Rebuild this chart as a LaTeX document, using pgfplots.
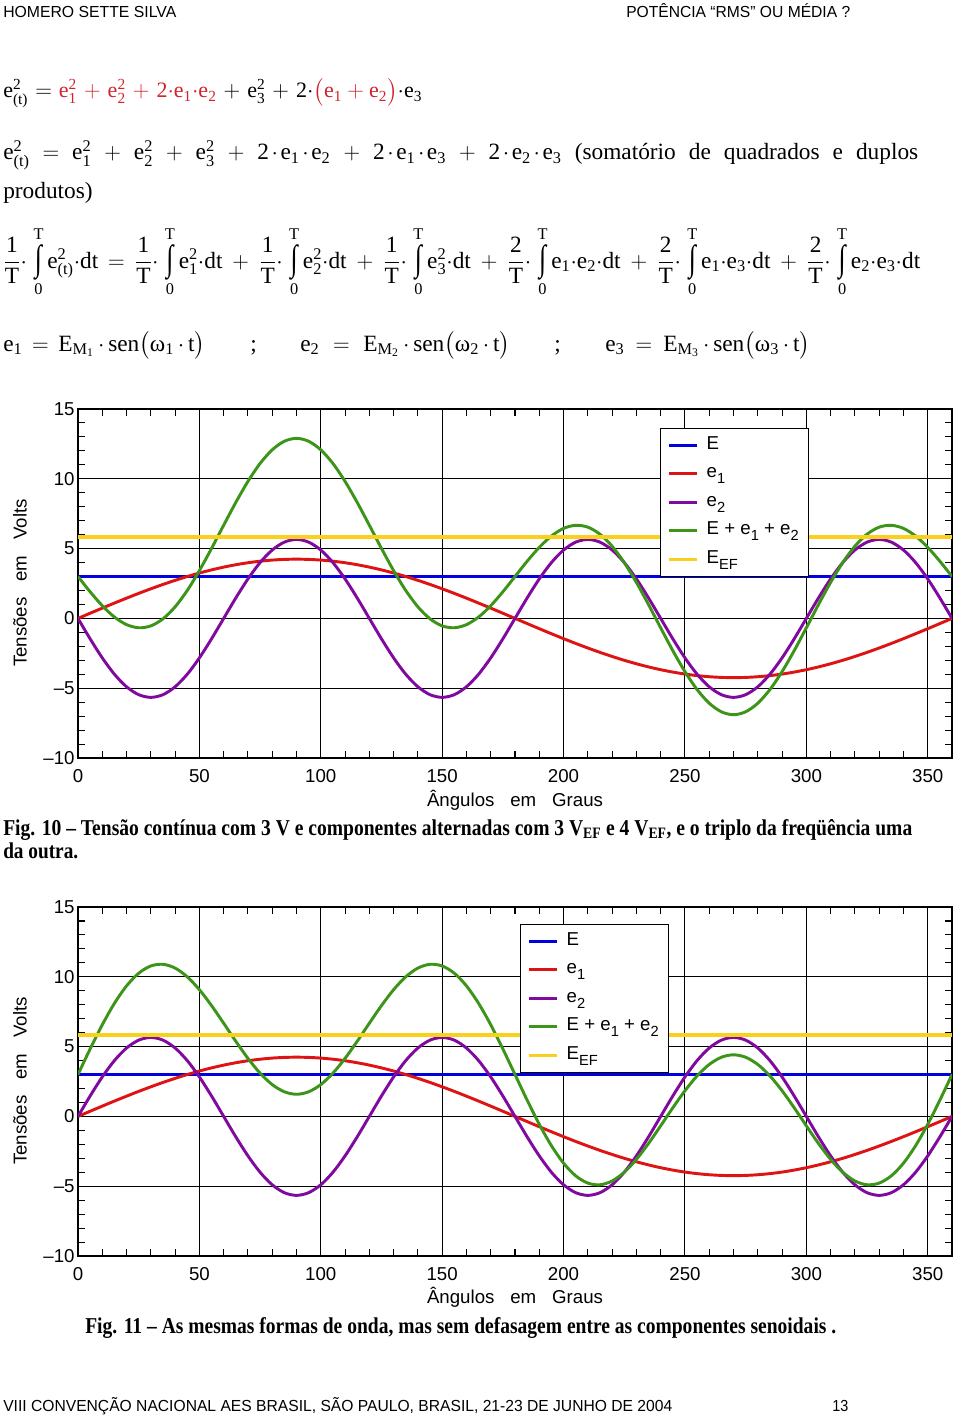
\documentclass[border=0pt]{standalone}
\usepackage{fontspec}
\setmainfont{Liberation Serif}
\setsansfont{Liberation Sans}
\usepackage{amsmath}
\usepackage{graphicx}
\usepackage{pgfplots}
\pgfplotsset{compat=1.18}
\usepackage{pgfplotstable}
\newlength\px \setlength\px{0.75pt}
\definecolor{cE}{RGB}{0,0,225}
\definecolor{cA}{RGB}{222,20,20}
\definecolor{cB}{RGB}{128,10,160}
\definecolor{cG}{RGB}{60,148,25}
\definecolor{cY}{RGB}{250,208,30}
\definecolor{eqred}{RGB}{210,35,45}
\newcommand\V[3]{\text{#1}^{\text{#2}}_{\text{#3}}}
\newcommand\Vs[2]{\text{#1}_{\text{#2}}}
\newcommand\cd{\mathord{\cdot}}
\newcommand\cdd{\mskip2mu\mathord{\cdot}\mskip2mu}
\newcommand\I{\mskip2mu\mathop{\vcenter{\hbox{\scalebox{1.1}[1.55]{∫}}}}\limits_{\text{0}}^{\text{T}}}
\newcommand\fr[1]{\dfrac{\text{#1}}{\text{T}}}
\newcommand\lsub[1]{\raisebox{-4.5pt}{\fontsize{11}{11}\selectfont #1}}
\newcommand\gap{\hspace{0.85em}}

\pgfplotstableread{
t e1 e2a g1 e2b g2
0 0 0 3 0 3
5 0.370 -1.464 1.906 1.464 4.834
10 0.737 -2.828 0.909 2.828 6.565
15 1.098 -4.000 0.098 4.000 8.098
20 1.451 -4.899 -0.448 4.899 9.350
25 1.793 -5.464 -0.671 5.464 10.257
30 2.121 -5.657 -0.536 5.657 10.778
35 2.433 -5.464 -0.031 5.464 10.897
40 2.727 -4.899 0.828 4.899 10.626
45 3.000 -4.000 2.000 4.000 10.000
50 3.250 -2.828 3.422 2.828 9.078
55 3.475 -1.464 5.011 1.464 7.939
60 3.674 0 6.674 0 6.674
65 3.845 1.464 8.309 -1.464 5.381
70 3.987 2.828 9.815 -2.828 4.159
75 4.098 4.000 11.098 -4.000 3.098
80 4.178 4.899 12.077 -4.899 2.279
85 4.226 5.464 12.690 -5.464 1.762
90 4.243 5.657 12.900 -5.657 1.586
95 4.226 5.464 12.690 -5.464 1.762
100 4.178 4.899 12.077 -4.899 2.279
105 4.098 4.000 11.098 -4.000 3.098
110 3.987 2.828 9.815 -2.828 4.159
115 3.845 1.464 8.309 -1.464 5.381
120 3.674 0 6.674 0 6.674
125 3.475 -1.464 5.011 1.464 7.939
130 3.250 -2.828 3.422 2.828 9.078
135 3.000 -4.000 2.000 4.000 10.000
140 2.727 -4.899 0.828 4.899 10.626
145 2.433 -5.464 -0.031 5.464 10.897
150 2.121 -5.657 -0.536 5.657 10.778
155 1.793 -5.464 -0.671 5.464 10.257
160 1.451 -4.899 -0.448 4.899 9.350
165 1.098 -4.000 0.098 4.000 8.098
170 0.737 -2.828 0.909 2.828 6.565
175 0.370 -1.464 1.906 1.464 4.834
180 0 0 3 0 3
185 -0.370 1.464 4.094 -1.464 1.166
190 -0.737 2.828 5.091 -2.828 -0.565
195 -1.098 4.000 5.902 -4.000 -2.098
200 -1.451 4.899 6.448 -4.899 -3.350
205 -1.793 5.464 6.671 -5.464 -4.257
210 -2.121 5.657 6.536 -5.657 -4.778
215 -2.433 5.464 6.031 -5.464 -4.897
220 -2.727 4.899 5.172 -4.899 -4.626
225 -3.000 4.000 4.000 -4.000 -4.000
230 -3.250 2.828 2.578 -2.828 -3.078
235 -3.475 1.464 0.989 -1.464 -1.939
240 -3.674 0 -0.674 0 -0.674
245 -3.845 -1.464 -2.309 1.464 0.619
250 -3.987 -2.828 -3.815 2.828 1.841
255 -4.098 -4.000 -5.098 4.000 2.902
260 -4.178 -4.899 -6.077 4.899 3.721
265 -4.226 -5.464 -6.690 5.464 4.238
270 -4.243 -5.657 -6.900 5.657 4.414
275 -4.226 -5.464 -6.690 5.464 4.238
280 -4.178 -4.899 -6.077 4.899 3.721
285 -4.098 -4.000 -5.098 4.000 2.902
290 -3.987 -2.828 -3.815 2.828 1.841
295 -3.845 -1.464 -2.309 1.464 0.619
300 -3.674 0 -0.674 0 -0.674
305 -3.475 1.464 0.989 -1.464 -1.939
310 -3.250 2.828 2.578 -2.828 -3.078
315 -3.000 4.000 4.000 -4.000 -4.000
320 -2.727 4.899 5.172 -4.899 -4.626
325 -2.433 5.464 6.031 -5.464 -4.897
330 -2.121 5.657 6.536 -5.657 -4.778
335 -1.793 5.464 6.671 -5.464 -4.257
340 -1.451 4.899 6.448 -4.899 -3.350
345 -1.098 4.000 5.902 -4.000 -2.098
350 -0.737 2.828 5.091 -2.828 -0.565
355 -0.370 1.464 4.094 -1.464 1.166
360 0 0 3 0 3
}\dat

\pgfplotsset{myax/.style={
  scale only axis, width=655.5pt, height=261.75pt, anchor=south west,
  xmin=0, xmax=360, ymin=-10, ymax=15,
  xtick={0,50,...,350}, xticklabels={0,50,100,150,200,250,300,350},
  ytick={-10,-5,0,5,10,15}, yticklabels={--10,--5,0,5,10,15},
  minor x tick num=4, minor y tick num=4,
  xmajorgrids, ymajorgrids,
  major grid style={black, line width=0.8pt},
  axis line style={black, line width=1.3pt},
  major tick length=0pt, minor tick length=5pt,
  every minor tick/.style={black, line width=0.8pt},
  tick align=inside,
  tick label style={font=\sffamily\fontsize{14}{14}\selectfont, black},
  xticklabel style={yshift=-5pt},
  yticklabel style={xshift=1pt},
  legend cell align=left,
  legend image code/.code={\draw[##1, line width=2.2pt] (0pt,0pt) -- (21pt,0pt);},
  every axis plot/.append style={line width=2.2pt},
  legend style={draw=black, line width=0.6pt, fill=white,
    font=\sffamily\fontsize{14}{16}\selectfont, row sep=0pt, column sep=4.5pt,
    inner xsep=5.5pt, inner ysep=2pt, anchor=north west,
    nodes={inner sep=1.5pt, text height=12pt, text depth=6.4pt, anchor=west}},
}}

\begin{document}
\begin{tikzpicture}
\begin{scope}[x=0.75pt, y=-0.75pt]
\useasboundingbox (0,0) rectangle (960,1416);
\coordinate (A1) at (78,758);
\coordinate (A2) at (78,1256);
% header / footer
\node[anchor=base west, inner sep=0, font=\sffamily\fontsize{12}{14}\selectfont] at (3,18) {\resizebox{173\px}{\height}{HOMERO SETTE SILVA}};
\node[anchor=base west, inner sep=0, font=\sffamily\fontsize{12}{14}\selectfont] at (626,18) {\resizebox{224\px}{\height}{POTÊNCIA “RMS” OU MÉDIA ?}};
\node[anchor=base west, inner sep=0, font=\sffamily\fontsize{12}{14}\selectfont] at (3,1411) {\resizebox{669\px}{\height}{VIII CONVENÇÃO NACIONAL AES BRASIL, SÃO PAULO, BRASIL, 21-23 DE JUNHO DE 2004}};
\node[anchor=base west, inner sep=0, font=\sffamily\fontsize{12}{14}\selectfont] at (832,1411) {\resizebox{16\px}{\height}{13}};
% equation line 1
\node[anchor=base west, inner sep=0] at (3,98) {\fontsize{16.5}{20}\selectfont\makebox[419\px][s]{%
$\V{e}{2}{(t)}$\hfill$=$\hfill{\color{eqred}$\V{e}{2}{1}$\hfill$+$\hfill$\V{e}{2}{2}$\hfill$+$\hfill$\text{2}\cd\Vs{e}{1}\cd\Vs{e}{2}$}\hfill$+$\hfill$\V{e}{2}{3}$\hfill$+$\hfill$\text{2}\cd{\color{eqred}\bigl(\Vs{e}{1} + \Vs{e}{2}\bigr)}\cd\Vs{e}{3}$}};
% line 2
\node[anchor=base west, inner sep=0] at (3,160) {\fontsize{17.5}{21}\selectfont\makebox[915\px][s]{%
$\V{e}{2}{(t)}$\hfill$=$\hfill$\V{e}{2}{1}$\hfill$+$\hfill$\V{e}{2}{2}$\hfill$+$\hfill$\V{e}{2}{3}$\hfill$+$\hfill$\text{2}\cdd\Vs{e}{1}\cdd\Vs{e}{2}$\hfill$+$\hfill$\text{2}\cdd\Vs{e}{1}\cdd\Vs{e}{3}$\hfill$+$\hfill$\text{2}\cdd\Vs{e}{2}\cdd\Vs{e}{3}$\hfill(somatório\hfill de\hfill quadrados\hfill e\hfill duplos}};
\node[anchor=base west, inner sep=0] at (3,198) {\fontsize{17.5}{21}\selectfont produtos)};
% line 3
\node[anchor=base west, inner sep=0] at (3,268) {\fontsize{17.5}{21}\selectfont\makebox[917\px][s]{%
$\fr1\cd\I\V{e}{2}{(t)}\cd\text{dt}$\hfill$=$\hfill$\fr1\cd\I\V{e}{2}{1}\cd\text{dt}$\hfill$+$\hfill$\fr1\cd\I\V{e}{2}{2}\cd\text{dt}$\hfill$+$\hfill$\fr1\cd\I\V{e}{2}{3}\cd\text{dt}$\hfill$+$\hfill$\fr2\cd\I\Vs{e}{1}\cd\Vs{e}{2}\cd\text{dt}$\hfill$+$\hfill$\fr2\cd\I\Vs{e}{1}\cd\Vs{e}{3}\cd\text{dt}$\hfill$+$\hfill$\fr2\cd\I\Vs{e}{2}\cd\Vs{e}{3}\cd\text{dt}$}};
% line 4
\node[anchor=base west, inner sep=0] at (3,351) {\fontsize{17.5}{21}\selectfont\makebox[202\px][s]{$\Vs{e}{1}$\hfill$=$\hfill$\text{E}_{\text{M}_{\text{1}}}\,\cd\,\text{sen}\bigl(\text{ω}_{\text{1}}\,\cd\,\text{t}\bigr)$}};
\node[anchor=base west, inner sep=0] at (250,351) {\fontsize{17.5}{21}\selectfont ;};
\node[anchor=base west, inner sep=0] at (300,351) {\fontsize{17.5}{21}\selectfont\makebox[210\px][s]{$\Vs{e}{2}$\hfill$=$\hfill$\text{E}_{\text{M}_{\text{2}}}\,\cd\,\text{sen}\bigl(\text{ω}_{\text{2}}\,\cd\,\text{t}\bigr)$}};
\node[anchor=base west, inner sep=0] at (554,351) {\fontsize{17.5}{21}\selectfont ;};
\node[anchor=base west, inner sep=0] at (605,351) {\fontsize{17.5}{21}\selectfont\makebox[205\px][s]{$\Vs{e}{3}$\hfill$=$\hfill$\text{E}_{\text{M}_{\text{3}}}\,\cd\,\text{sen}\bigl(\text{ω}_{\text{3}}\,\cd\,\text{t}\bigr)$}};
% axis labels
\node[rotate=90, inner sep=0, font=\sffamily\fontsize{14}{14}\selectfont] at (20,583) {Tensões\gap em\gap Volts};
\node[inner sep=0, font=\sffamily\fontsize{14}{14}\selectfont] at (515,800) {Ângulos\gap em\gap Graus};
\node[rotate=90, inner sep=0, font=\sffamily\fontsize{14}{14}\selectfont] at (20,1081) {Tensões\gap em\gap Volts};
\node[inner sep=0, font=\sffamily\fontsize{14}{14}\selectfont] at (515,1297) {Ângulos\gap em\gap Graus};
% captions
\node[anchor=base west, inner sep=0, font=\bfseries\fontsize{17}{19}\selectfont] at (3,835) {\resizebox{909\px}{\height}{Fig. 10 – Tensão contínua com 3 V e componentes alternadas com 3 V\textsubscript{EF} e 4 V\textsubscript{EF}, e o triplo da freqüência uma}};
\node[anchor=base west, inner sep=0, font=\bfseries\fontsize{17}{19}\selectfont] at (3,858) {\resizebox{75\px}{\height}{da outra.}};
\node[anchor=base west, inner sep=0, font=\bfseries\fontsize{17}{19}\selectfont] at (85,1333) {\resizebox{751\px}{\height}{Fig. 11 – As mesmas formas de onda, mas sem defasagem entre as componentes senoidais .}};
\end{scope}

\begin{axis}[myax, at={(A1)}, legend style={at={(0.6659,0.9456)}}]
\addplot[cE] coordinates {(0,3) (360,3)};
\addplot[cA, smooth] table[x=t, y=e1] {\dat};
\addplot[cB, smooth] table[x=t, y=e2a] {\dat};
\addplot[cG, smooth] table[x=t, y=g1] {\dat};
\addplot[cY, line width=2.6pt] coordinates {(0,5.831) (360,5.831)};
\legend{E, e\lsub{1}, e\lsub{2}, E + e\lsub{1} + e\lsub{2}, E\lsub{EF}}
\end{axis}

\begin{axis}[myax, at={(A2)}, legend style={at={(0.5057,0.9513)}}]
\addplot[cE] coordinates {(0,3) (360,3)};
\addplot[cA, smooth] table[x=t, y=e1] {\dat};
\addplot[cB, smooth] table[x=t, y=e2b] {\dat};
\addplot[cG, smooth] table[x=t, y=g2] {\dat};
\addplot[cY, line width=2.6pt] coordinates {(0,5.831) (360,5.831)};
\legend{E, e\lsub{1}, e\lsub{2}, E + e\lsub{1} + e\lsub{2}, E\lsub{EF}}
\end{axis}
\end{tikzpicture}
\end{document}
